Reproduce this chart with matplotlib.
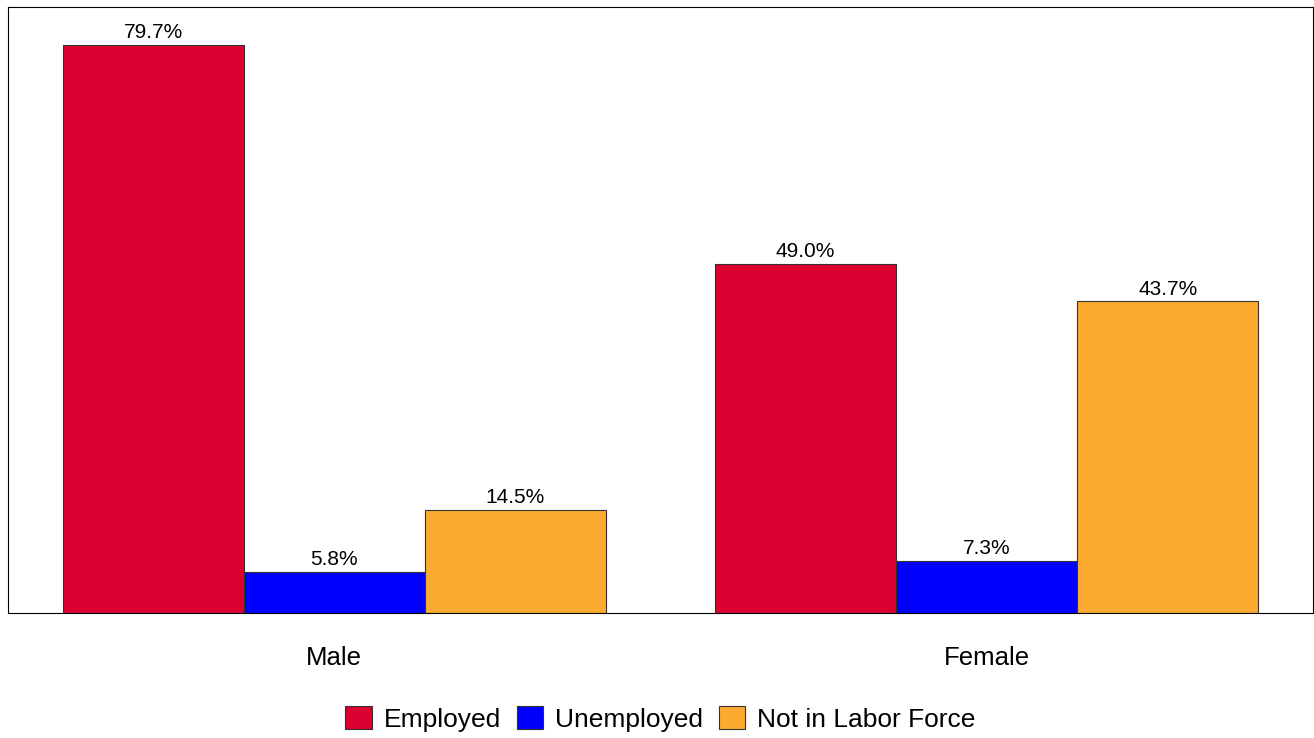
import numpy as np
import matplotlib
matplotlib.use("Agg")
import matplotlib.pyplot as plt

plt.rcParams['font.family'] = ['Liberation Sans', 'DejaVu Sans']

groups = ['Male', 'Female']
series = ['Employed', 'Unemployed', 'Not in Labor Force']
employed = [79.7, 49.0]
unemployed = [5.8, 7.3]
not_in_lf = [14.5, 43.7]
colors = ['#DC0030', '#0000FF', '#FDAB30']

fig = plt.figure(figsize=(13.14, 7.38), dpi=100)
ax = fig.add_axes([8 / 1314, 125 / 738, 1305 / 1314, 606 / 738])

x = np.arange(len(groups))
width = 0.2775
for i, (vals, name) in enumerate(zip([employed, unemployed, not_in_lf], series)):
    bars = ax.bar(x + (i - 1) * width, vals, width, color=colors[i],
                  edgecolor='#333333', linewidth=0.8, label=name)
    for b, v in zip(bars, vals):
        ax.text(b.get_x() + b.get_width() / 2, v + 0.4, f'{v:.1f}%',
                ha='center', va='bottom', fontsize=15)

ax.set_xlim(-0.5, 1.5)
ax.set_ylim(0, 85)
ax.set_yticks([])
ax.set_xticks(x)
ax.set_xticklabels(groups, fontsize=18.5)
ax.tick_params(axis='x', length=0, pad=24)
for s in ax.spines.values():
    s.set_linewidth(0.8)

ax.legend(loc='upper center', bbox_to_anchor=(0.5, -0.127), ncol=3, frameon=False,
          fontsize=19, handlelength=1.0, handleheight=1.0, handletextpad=0.45,
          columnspacing=0.6, borderaxespad=0.2)

fig.savefig('out.png', dpi=100)
